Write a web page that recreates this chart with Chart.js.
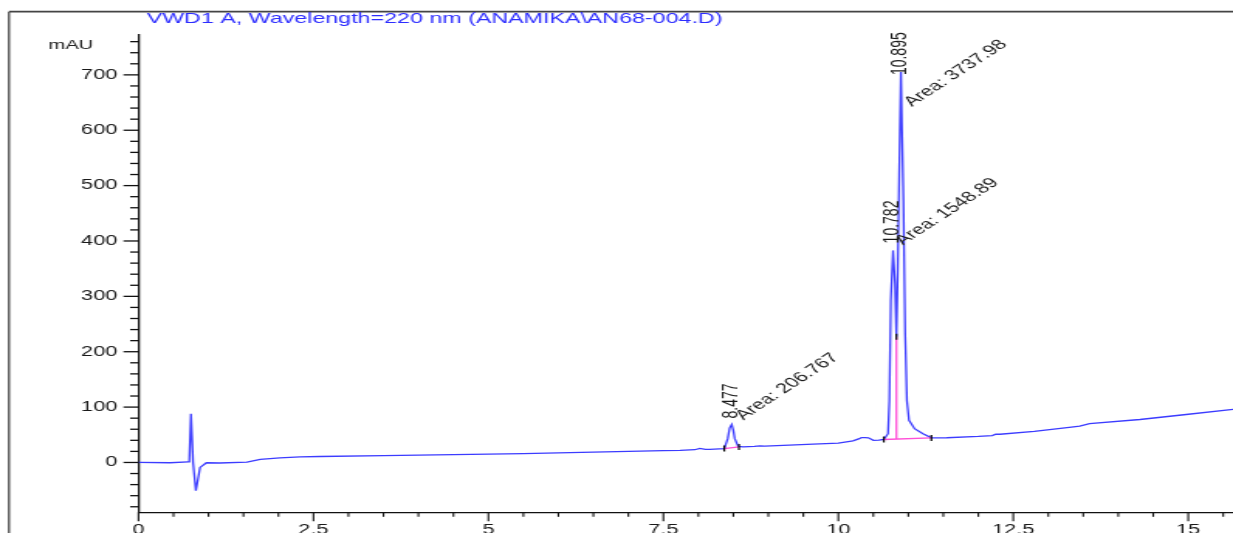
<!DOCTYPE html>
<html>
<head>
<meta charset="utf-8">
<script src="https://cdn.jsdelivr.net/npm/chart.js@4"></script>
<style>
html, body { margin: 0; padding: 0; background: #fff; overflow: hidden; }
/* the source picture is stretched sideways, so the whole chart is too */
#wrap { width: 796px; height: 533px; transform: scaleX(1.549); transform-origin: 0 0; }
canvas { display: block; }
</style>
</head>
<body>
<div id="wrap"><canvas id="myChart" width="796" height="533"></canvas></div>
<script>
// retention time (min) and detector signal (mAU)
const times = [0, 0.45, 0.71, 0.726, 0.75, 0.78, 0.82, 0.88, 0.97, 1.16, 1.55, 1.74, 2.02, 2.31, 2.59,
  3.5, 4.5, 5.5, 6.5, 7.5, 7.74, 7.95, 8.02, 8.1, 8.16, 8.3, 8.37, 8.42, 8.447, 8.477, 8.5, 8.52, 8.57,
  8.64, 8.8, 8.88, 8.95, 9.3, 9.64, 10.0, 10.21, 10.3, 10.33, 10.38, 10.43, 10.5, 10.58, 10.65, 10.71,
  10.73, 10.75, 10.782, 10.81, 10.83, 10.85, 10.87, 10.895, 10.91, 10.93, 10.955, 10.98, 11.01, 11.09,
  11.21, 11.33, 11.55, 12.0, 12.2, 12.25, 12.31, 12.8, 13.33, 13.45, 13.59, 14.31, 14.97, 15.64];
const mau = [0, -0.5, 1, 1, 88, 0, -51, -9, -0.5, -1, 0.5, 5.4, 8.3, 10, 10.8,
  12.5, 14, 16, 18.5, 21.5, 22, 23, 25.5, 23.5, 23.5, 24.5, 25, 43, 62, 68.6, 58, 43, 29,
  28, 29, 30, 29.5, 31.5, 33, 35, 39, 43, 45, 45, 44.6, 40, 40.5, 41.5, 52,
  112, 292, 383, 323, 227, 353, 520, 705, 600, 473, 233, 112, 76, 61,
  52, 44.4, 44.6, 47, 48.5, 51, 51, 56, 64, 65.5, 70, 77.6, 86.6, 96];

// integrated peaks
const peakTimes = [8.477, 10.782, 10.895];
const peakHeights = [68.6, 383, 705];
const peakAreas = ['206.767', '1548.89', '3737.98'];

// integration baselines (start -> end)
const baseStartT = [8.37, 10.65, 10.83];
const baseStartY = [25, 41.5, 227];
const baseEndT = [8.58, 11.33, 10.83];
const baseEndY = [28, 44.4, 42.6];

// peak start / end marks
const markTimes = [8.37, 8.58, 10.65, 10.83, 11.33];
const markValues = [25, 28, 41.5, 227, 44.4];

const FONT = '"Liberation Sans", Arial, sans-serif';
const TITLE = 'VWD1 A, Wavelength=220 nm (ANAMIKA\\AN68-004.D)';

function isMajor(v, step){
    return Math.abs(v / step - Math.round(v / step)) < 1e-6;
}

const frameAndText = {
    id: 'frameAndText',
    beforeDraw(chart){
        const ctx = chart.ctx;
        ctx.save();
        ctx.fillStyle = '#fff';
        ctx.fillRect(0, 0, chart.width, chart.height);
        ctx.strokeStyle = '#444';
        ctx.lineWidth = 1.8;
        ctx.beginPath();
        ctx.moveTo(5.8, 11.7);
        ctx.lineTo(chart.width, 11.7);
        ctx.stroke();
        ctx.lineWidth = 1.3;
        ctx.beginPath();
        ctx.moveTo(5.8, 11.7);
        ctx.lineTo(5.8, chart.height);
        ctx.stroke();
        ctx.restore();
    },
    afterDraw(chart){
        const ctx = chart.ctx;
        const xs = chart.scales.x, ys = chart.scales.y;
        const area = chart.chartArea;
        ctx.save();
        // tick marks, long for labelled ones
        ctx.strokeStyle = '#111';
        ctx.lineWidth = 1.3;
        ys.ticks.forEach(t => {
            const py = ys.getPixelForValue(t.value);
            const len = isMajor(t.value, 100) ? 9.7 : 5.4;
            ctx.beginPath();
            ctx.moveTo(area.left - len, py);
            ctx.lineTo(area.left, py);
            ctx.stroke();
        });
        ctx.lineWidth = 1.1;
        xs.ticks.forEach(t => {
            const px = xs.getPixelForValue(t.value);
            const len = isMajor(t.value, 2.5) ? 9 : 4.5;
            ctx.beginPath();
            ctx.moveTo(px, area.bottom);
            ctx.lineTo(px, area.bottom + len);
            ctx.stroke();
        });

        // title and unit
        ctx.fillStyle = '#2d2dff';
        ctx.font = '15px ' + FONT;
        ctx.textAlign = 'left';
        ctx.textBaseline = 'alphabetic';
        ctx.fillText(TITLE, 94.7, 23.3);
        ctx.fillStyle = '#222';
        ctx.font = '13px ' + FONT;
        ctx.textAlign = 'right';
        ctx.fillText('mAU', 60.2, 48.5);

        // peak labels
        const rtGap = [6, 7, -3];
        const areaShift = [[7.5, -4], [6.5, -5], [7, 35]];
        ctx.fillStyle = '#1a1a1a';
        ctx.font = '14px ' + FONT;
        peakTimes.forEach((t, i) => {
            const px = xs.getPixelForValue(t);
            const py = ys.getPixelForValue(peakHeights[i]);
            ctx.save();
            ctx.translate(px, py - rtGap[i]);
            ctx.rotate(-Math.PI / 2);
            ctx.textAlign = 'left';
            ctx.textBaseline = 'middle';
            ctx.fillText(t.toFixed(3), 0, 0);
            ctx.restore();

            ctx.save();
            ctx.translate(px + areaShift[i][0], py + areaShift[i][1]);
            ctx.rotate(-Math.PI / 4);
            ctx.textAlign = 'left';
            ctx.textBaseline = 'alphabetic';
            ctx.fillText('Area: ' + peakAreas[i], 0, 0);
            ctx.restore();
        });
        ctx.restore();
    }
};

const traceData = times.map((t, i) => ({x: t, y: mau[i]}));
const baseSets = baseStartT.map((t, i) => ({
    data: [{x: t, y: baseStartY[i]}, {x: baseEndT[i], y: baseEndY[i]}],
    showLine: true,
    borderColor: '#ff4fd8',
    borderWidth: 1.3,
    pointRadius: 0,
    order: 2
}));

const ctx = document.getElementById('myChart').getContext('2d');
new Chart(ctx, {
    type: 'scatter',
    data: {
        datasets: [
            {
                data: traceData,
                showLine: true,
                borderColor: 'rgb(60,60,255)',
                borderWidth: 1.3,
                pointRadius: 0,
                tension: 0,
                order: 3
            },
            ...baseSets,
            {
                data: markTimes.map((t, i) => ({x: t, y: markValues[i]})),
                showLine: false,
                pointStyle: 'line',
                rotation: 90,
                pointRadius: 3,
                borderColor: '#000',
                borderWidth: 1.2,
                order: 1
            }
        ]
    },
    options: {
        responsive: false,
        animation: false,
        devicePixelRatio: 1,
        layout: { autoPadding: false, padding: { top: 35, left: 0, right: 0, bottom: 0 } },
        plugins: {
            legend: { display: false },
            tooltip: { enabled: false },
            title: { display: false }
        },
        scales: {
            x: {
                type: 'linear',
                position: 'bottom',
                min: 0,
                max: 15.64,
                border: { display: true, color: '#111', width: 1.3 },
                grid: { drawOnChartArea: false, drawTicks: true, tickLength: 9, tickColor: 'rgba(0,0,0,0)' },
                ticks: {
                    stepSize: 0.5,
                    autoSkip: false,
                    maxRotation: 0,
                    includeBounds: false,
                    padding: 0,
                    color: '#1a1a1a',
                    font: { family: FONT, size: 14 },
                    callback: v => isMajor(v, 2.5) ? String(v) : ''
                },
                afterFit(scale){
                    scale.height = 20.7;
                    scale.paddingLeft = 0;
                    scale.paddingRight = 0;
                }
            },
            y: {
                type: 'linear',
                min: -90,
                max: 772,
                border: { display: true, color: '#111', width: 1.3 },
                grid: { drawOnChartArea: false, drawTicks: true, tickLength: 10, tickColor: 'rgba(0,0,0,0)' },
                ticks: {
                    stepSize: 20,
                    autoSkip: false,
                    includeBounds: false,
                    padding: 3.7,
                    color: '#1a1a1a',
                    font: { family: FONT, size: 14 },
                    callback: v => isMajor(v, 100) ? String(v) : ''
                },
                afterFit(scale){
                    scale.width = 89.4;
                    scale.paddingTop = 0;
                    scale.paddingBottom = 0;
                }
            }
        }
    },
    plugins: [frameAndText]
});
</script>
</body>
</html>
